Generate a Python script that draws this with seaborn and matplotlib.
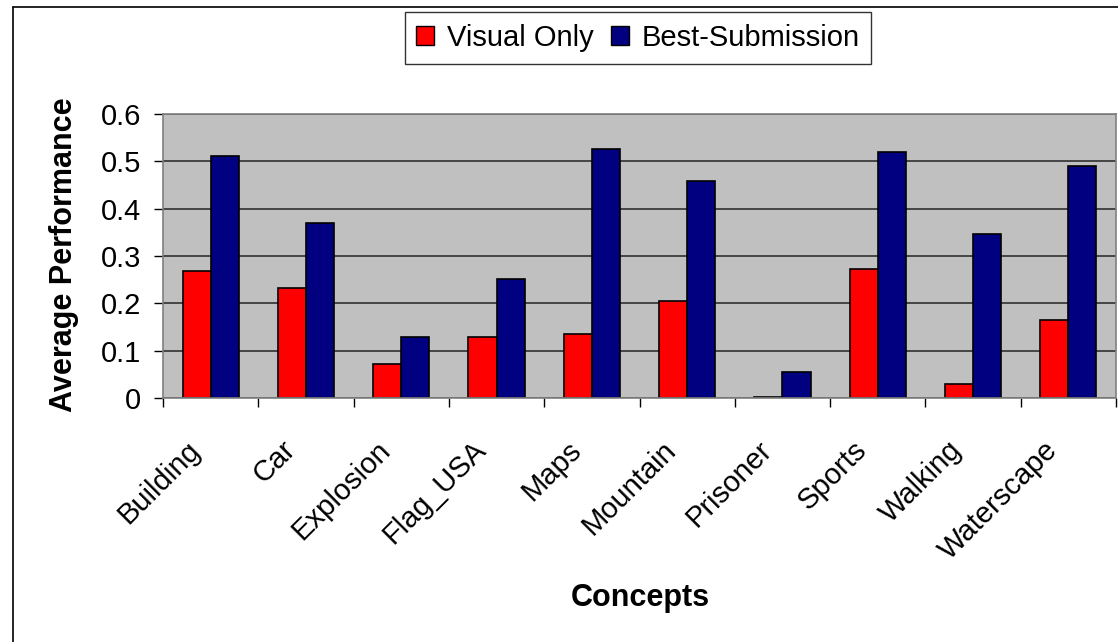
import matplotlib
matplotlib.use("Agg")
import matplotlib.pyplot as plt
import matplotlib.transforms as mtransforms
from matplotlib.lines import Line2D
from matplotlib.patches import Patch
import seaborn as sns
import pandas as pd
import numpy as np

concepts = ["Building", "Car", "Explosion", "Flag_USA", "Maps", "Mountain",
            "Prisoner", "Sports", "Walking", "Waterscape"]
visual_only = [0.269, 0.232, 0.071, 0.128, 0.136, 0.204, 0.003, 0.273, 0.030, 0.164]
best_submission = [0.511, 0.370, 0.128, 0.252, 0.527, 0.459, 0.055, 0.519, 0.346, 0.491]
series_names = ["Visual Only", "Best-Submission"]
y_ticks = [0, 0.1, 0.2, 0.3, 0.4, 0.5, 0.6]
y_tick_labels = ["0", "0.1", "0.2", "0.3", "0.4", "0.5", "0.6"]

df = pd.DataFrame({
    "Concept": concepts * 2,
    "Series": [series_names[0]] * len(concepts) + [series_names[1]] * len(concepts),
    "Value": visual_only + best_submission,
})

sns.set_style("white")
plt.rcParams["font.family"] = ["Liberation Sans", "DejaVu Sans"]
plt.rcParams["text.color"] = "black"
plt.rcParams["xtick.color"] = "black"
plt.rcParams["ytick.color"] = "black"

W, H = 1118, 642
fig = plt.figure(figsize=(W / 100, H / 100), dpi=100)
ax = fig.add_axes([163 / W, 1 - 398 / H, (1116 - 163) / W, (398 - 114) / H])

palette = {"Visual Only": "#FF0000", "Best-Submission": "#000080"}
sns.barplot(data=df, x="Concept", y="Value", hue="Series", palette=palette,
            order=concepts, hue_order=series_names, width=0.59,
            edgecolor="black", linewidth=1.2, saturation=1, ax=ax, legend=False)

ax.set_facecolor("#C0C0C0")
ax.set_ylim(0, 0.6)
ax.set_xlim(-0.5, len(concepts) - 0.5)
ax.set_yticks(y_ticks)
ax.set_yticklabels(y_tick_labels, fontsize=21)
ax.yaxis.grid(True, color="#303030", linewidth=1.2)
ax.set_axisbelow(True)
for s in ax.spines.values():
    s.set_color("#808080")
    s.set_linewidth(1.2)

ax.tick_params(axis="y", direction="out", length=6.5, width=1, color="black", pad=9, left=True)
ax.set_xticks(range(len(concepts)))
ax.set_xticks(np.arange(-0.5, len(concepts), 1.0), minor=True)
ax.tick_params(axis="x", which="major", length=0, pad=27)
ax.tick_params(axis="x", which="minor", direction="out", length=6.5, width=1, color="black", bottom=True)
ax.set_xticklabels(concepts, fontsize=21, rotation=45, ha="right", va="top",
                   rotation_mode="anchor")
offset = mtransforms.ScaledTranslation(-25 / 100, 0, fig.dpi_scale_trans)
for lbl in ax.get_xticklabels():
    lbl.set_transform(lbl.get_transform() + offset)

ax.set_xlabel("")
ax.set_ylabel("")
fig.text(64 / W, 1 - 255 / H, "Average Performance", rotation=90, fontsize=22,
         fontweight="bold", ha="center", va="center")
fig.text(640 / W, 1 - 598 / H, "Concepts", fontsize=22, fontweight="bold",
         ha="center", va="center")

handles = [Patch(facecolor=palette[n], edgecolor="black", linewidth=1) for n in series_names]
leg = fig.legend(handles, series_names, loc="center", bbox_to_anchor=(638 / W, 1 - 38 / H),
                 ncol=2, fontsize=21, frameon=True, fancybox=False, handlelength=0.6,
                 handleheight=0.6, handletextpad=0.45, columnspacing=0.6,
                 borderpad=0.4, borderaxespad=0)
leg.get_frame().set_edgecolor("black")
leg.get_frame().set_linewidth(1)

fig.add_artist(Line2D([13 / W, 13 / W], [0, 1 - 7 / H], color="black", linewidth=1.2,
                      transform=fig.transFigure))
fig.add_artist(Line2D([13 / W, 1], [1 - 7 / H, 1 - 7 / H], color="black", linewidth=1.2,
                      transform=fig.transFigure))

fig.savefig("out.png", dpi=100, facecolor="white")
